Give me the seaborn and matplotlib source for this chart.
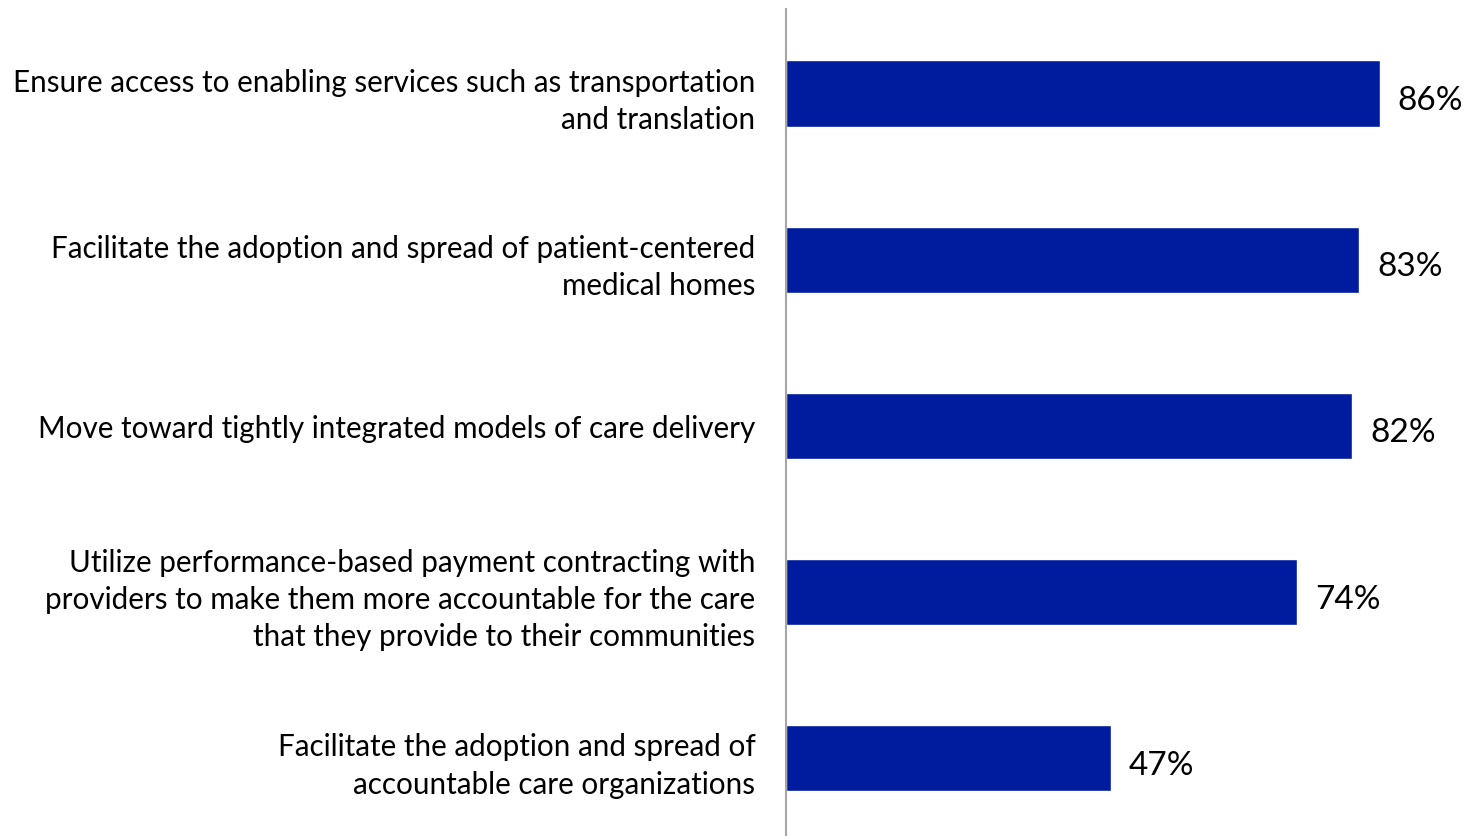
import pandas as pd
import matplotlib
matplotlib.use('Agg')
import matplotlib.pyplot as plt
import seaborn as sns

categories = [
    'Ensure access to enabling services such as transportation\nand translation',
    'Facilitate the adoption and spread of patient-centered\nmedical homes',
    'Move toward tightly integrated models of care delivery',
    'Utilize performance-based payment contracting with\nproviders to make them more accountable for the care\nthat they provide to their communities',
    'Facilitate the adoption and spread of\naccountable care organizations',
]
values = [86, 83, 82, 74, 47]
value_labels = ['86%', '83%', '82%', '74%', '47%']

df = pd.DataFrame({'item': categories, 'pct': values})

sns.set_style('white')
plt.rcParams['font.family'] = ['Lato', 'DejaVu Sans']

f = plt.figure(figsize=(14.69, 8.37), dpi=100)
ax = f.add_axes([786/1469, 0, 1 - 786/1469, 1 - 10/837])
sns.barplot(data=df, x='pct', y='item', orient='h', color='#001C9E',
            saturation=1, width=0.4, ax=ax)

ax.set_xlim(0, 98.9)
ax.set_ylim(4.47, -0.51)
ax.set_xticks([])
ax.set_xlabel('')
ax.set_ylabel('')
ax.tick_params(axis='y', length=0, pad=22, labelsize=21.3)
for lab in ax.get_yticklabels():
    lab.set_horizontalalignment('right')
    lab.set_multialignment('right')
    lab.set_linespacing(1.4)
    lab.set_color('black')

for sp in ['top', 'right', 'bottom']:
    ax.spines[sp].set_visible(False)
ax.spines['left'].set_color('#A6A6A6')
ax.spines['left'].set_linewidth(1.5)

for i, (v, t) in enumerate(zip(values, value_labels)):
    ax.text(v + 2.6, i + 0.04, t, va='center', ha='left', fontsize=24, color='black')

f.savefig('out.png', dpi=100)
plt.close('all')
